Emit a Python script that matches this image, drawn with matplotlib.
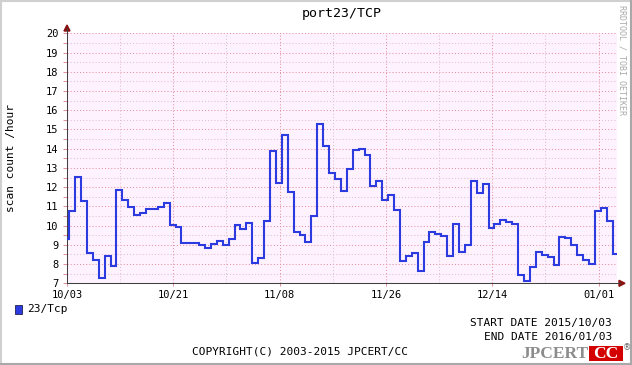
import matplotlib
matplotlib.use('Agg')
import matplotlib.pyplot as plt
import matplotlib.dates as mdates
from matplotlib.patches import Rectangle, Polygon
from matplotlib.lines import Line2D
import pandas as pd

W, H, DPI = 632, 365, 100

title = "port23/TCP"
ylabel = "scan count /hour"
series_name = "23/Tcp"
start_text = "START DATE 2015/10/03"
end_text = "END DATE 2016/01/03"
copyright_text = "COPYRIGHT(C) 2003-2015 JPCERT/CC"
watermark = "RRDTOOL / TOBI OETIKER"

# daily values (UTC days, shown in JST => bins start at 09:00)
bin_start = "2015-10-02 09:00"
values = [9.3, 10.76, 12.55, 11.3, 8.58, 8.23, 7.29, 8.44, 7.92, 11.85,
          11.33, 10.97, 10.55, 10.67, 10.86, 10.86, 10.99, 11.16, 10.03, 9.95,
          9.11, 9.11, 9.11, 8.99, 8.85, 9.06, 9.22, 8.99, 9.32, 10.03,
          9.84, 10.15, 8.06, 8.34, 10.24, 13.88, 12.23, 14.71, 11.75, 9.69,
          9.51, 9.17, 10.5, 15.28, 14.16, 12.75, 12.42, 11.8, 12.94, 13.95,
          14.0, 13.69, 12.06, 12.32, 11.33, 11.61, 10.81, 8.18, 8.42, 8.59,
          7.66, 9.17, 9.69, 9.56, 9.46, 8.42, 10.1, 8.65, 9.01, 12.34,
          11.71, 12.14, 9.87, 10.08, 10.29, 10.17, 10.1, 7.45, 7.14, 7.87,
          8.65, 8.47, 8.37, 7.95, 9.43, 9.36, 8.99, 8.47, 8.23, 8.01,
          10.76, 10.93, 10.26, 8.53]
view_start = "2015-10-03 00:00"
view_end = "2016-01-04 03:00"
tick_dates = ["2015-10-03", "2015-10-21", "2015-11-08", "2015-11-26", "2015-12-14", "2016-01-01"]
tick_labels = ["10/03", "10/21", "11/08", "11/26", "12/14", "01/01"]
minor_dates = ["2015-10-12", "2015-10-30", "2015-11-17", "2015-12-05", "2015-12-23"]
y_ticks = list(range(7, 21))
y_min, y_max = 7, 20

def dnum(s):
    return mdates.date2num(pd.Timestamp(s).to_pydatetime())

edges = [mdates.date2num(t.to_pydatetime()) for t in
         pd.date_range(bin_start, periods=len(values) + 1, freq="D")]

MONO = "DejaVu Sans Mono"
plt.rcParams['font.family'] = MONO

fig = plt.figure(figsize=(W / DPI, H / DPI), dpi=DPI, facecolor="white")

L, R, T, B = 67, 617, 33.3, 283.3
ax = fig.add_axes([L / W, 1 - B / H, (R - L) / W, (B - T) / H])
ax.set_facecolor("#FFF2FF")
ax.set_xlim(dnum(view_start), dnum(view_end))
ax.set_ylim(y_min, y_max)

maj_col = "#E2939F"
min_col = "#DDBFD2"
dots = (0, (1, 2))
for yv in y_ticks[1:]:
    ax.axhline(yv, color=maj_col, lw=0.75, ls=dots, zorder=1)
for yv in y_ticks[:-1]:
    ax.axhline(yv + 0.5, color=min_col, lw=0.75, ls=dots, zorder=1)
for d in tick_dates[1:]:
    ax.axvline(dnum(d), color=maj_col, lw=0.75, ls=dots, zorder=1)
for d in minor_dates:
    ax.axvline(dnum(d), color=min_col, lw=0.75, ls=dots, zorder=1)

ax.stairs(values, edges, baseline=None, color="#2B3BE0", lw=1.5, zorder=3)

ax.set_yticks(y_ticks)
ax.set_yticks([y + 0.5 for y in y_ticks[:-1]], minor=True)
ax.set_xticks([dnum(d) for d in tick_dates])
ax.set_xticklabels(tick_labels)
ax.tick_params(axis='y', which='both', length=3, width=0.75, color=maj_col, pad=3, labelsize=7.5)
ax.tick_params(axis='x', which='both', length=2, width=0.75, color=maj_col, pad=3, labelsize=7.5)

for s in ["top", "right"]:
    ax.spines[s].set_visible(False)
for s in ["left", "bottom"]:
    ax.spines[s].set_color("#404040")
    ax.spines[s].set_linewidth(0.75)

def fx(x): return x / W
def fy(y): return 1 - y / H

# axis extensions and arrows
fig.add_artist(Line2D([fx(L), fx(L)], [fy(T), fy(28)], color="#404040", lw=0.75))
fig.add_artist(Line2D([fx(R), fx(620)], [fy(B), fy(B)], color="#404040", lw=0.75))
fig.add_artist(Polygon([[fx(L - 3), fy(31)], [fx(L + 3), fy(31)], [fx(L), fy(25)]],
                       closed=True, color="#8B1010", transform=fig.transFigure))
fig.add_artist(Polygon([[fx(619), fy(B - 3)], [fx(619), fy(B + 3)], [fx(625), fy(B)]],
                       closed=True, color="#8B1010", transform=fig.transFigure))

# texts
fig.text(fx(342), fy(14), title, ha="center", va="center", fontsize=9.5)
fig.text(fx(11), fy(158), ylabel, ha="center", va="center", rotation=90, fontsize=8)
fig.text(fx(622), fy(5), watermark, ha="center", va="top", rotation=270,
         fontsize=6, color="#AAAAAA")

fig.add_artist(Rectangle((fx(15), fy(314)), 7 / W, 9 / H, transform=fig.transFigure,
                         facecolor="#2B3BE0", edgecolor="#202050", lw=0.6))
fig.text(fx(27), fy(309), series_name, ha="left", va="center", fontsize=8)
fig.text(fx(612), fy(323), start_text, ha="right", va="center", fontsize=8)
fig.text(fx(612), fy(337), end_text, ha="right", va="center", fontsize=8)
fig.text(fx(300), fy(352), copyright_text, ha="center", va="center", fontsize=8)

# logo
fig.text(fx(588), fy(354), "JPCERT", ha="right", va="center", fontsize=12.5,
         family="Liberation Serif", weight="bold", color="#8C8C8C")
fig.add_artist(Rectangle((fx(589), fy(361)), 34 / W, 15 / H, transform=fig.transFigure,
                         facecolor="#D40000", edgecolor="none"))
fig.text(fx(606), fy(354), "CC", ha="center", va="center", fontsize=12.5,
         family="Liberation Serif", weight="bold", color="white")
fig.text(fx(627), fy(348), "\u00ae", ha="center", va="center", fontsize=6,
         family="DejaVu Sans", color="#666666")

# frame
fig.add_artist(Line2D([0, 1], [fy(1), fy(1)], color="#D0D0D0", lw=1.5))
fig.add_artist(Line2D([fx(1), fx(1)], [0, 1], color="#D0D0D0", lw=1.5))
fig.add_artist(Line2D([0, 1], [fy(364), fy(364)], color="#A8A8A8", lw=1.5))
fig.add_artist(Line2D([fx(631), fx(631)], [0, 1], color="#A8A8A8", lw=1.5))

fig.savefig("out.png", dpi=DPI, facecolor="white")
